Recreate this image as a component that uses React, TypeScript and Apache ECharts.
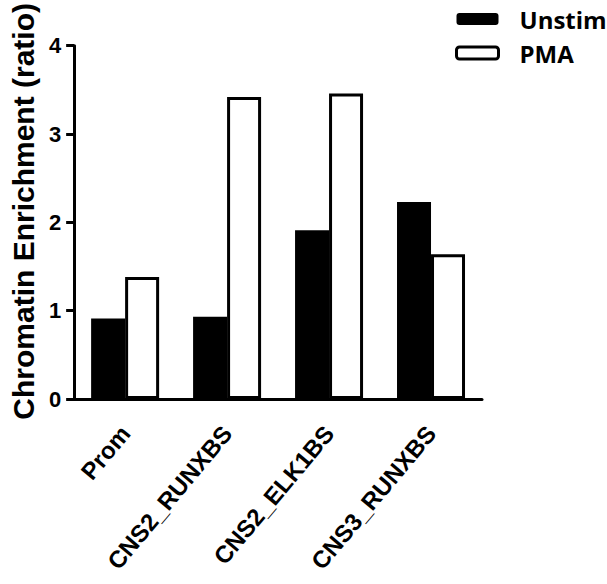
import React, { useEffect, useRef } from "react";
import * as echarts from "echarts";

const categories = ["Prom", "CNS2_RUNXBS", "CNS2_ELK1BS", "CNS3_RUNXBS"];
const unstimValues = [0.91, 0.93, 1.91, 2.23];
const pmaValues = [1.38, 3.42, 3.46, 1.64];
const yTicks = [0, 1, 2, 3, 4];
const seriesNames = ["Unstim", "PMA"];
const yTitle = "Chromatin Enrichment (ratio)";

export default function App() {
  const ref = useRef<HTMLDivElement>(null);
  useEffect(() => {
    document.body.style.margin = "0";
    if (!ref.current) return;
    const chart = echarts.init(ref.current, undefined, { renderer: "svg" });
    const font = "'Liberation Sans', Arial, sans-serif";
    chart.setOption({
      animation: false,
      backgroundColor: "#ffffff",
      legend: {
        orient: "vertical",
        left: 455,
        top: 6,
        padding: 0,
        itemWidth: 42,
        itemHeight: 12,
        itemGap: 8,
        icon: "roundRect",
        textStyle: {
          fontFamily: "'Open Sans', sans-serif",
          fontWeight: "bold",
          fontSize: 24,
          color: "#000",
          lineHeight: 26,
          padding: [0, 0, 0, 16],
        },
        data: [
          { name: seriesNames[0], itemStyle: { color: "#000", borderColor: "#000", borderWidth: 0 } },
          { name: seriesNames[1], itemStyle: { color: "#fff", borderColor: "#000", borderWidth: 3 } },
        ],
      },
      grid: { left: 74, right: 125, top: 43, bottom: 185, containLabel: false },
      xAxis: {
        type: "category",
        data: categories,
        boundaryGap: true,
        axisLine: { lineStyle: { color: "#000", width: 3 } },
        axisTick: { alignWithLabel: true, length: 11, lineStyle: { color: "#000", width: 3 } },
        axisLabel: {
          rotate: 50,
          margin: 30,
          color: "#000",
          fontFamily: font,
          fontWeight: "bold",
          fontSize: 24,
          interval: 0,
        },
      },
      yAxis: {
        type: "value",
        min: yTicks[0],
        max: yTicks[yTicks.length - 1],
        interval: 1,
        name: yTitle,
        nameLocation: "middle",
        nameGap: 33,
        nameTextStyle: {
          color: "#000",
          fontFamily: font,
          fontWeight: "bold",
          fontSize: 30,
          padding: [0, 0, 0, 22],
        },
        splitLine: { show: false },
        axisLine: { show: true, lineStyle: { color: "#000", width: 3 } },
        axisTick: { show: true, length: 8, lineStyle: { color: "#000", width: 3 } },
        axisLabel: {
          margin: 13,
          color: "#000",
          fontFamily: font,
          fontWeight: "bold",
          fontSize: 22,
        },
      },
      series: [
        {
          name: seriesNames[0],
          type: "bar",
          data: unstimValues,
          barWidth: 34,
          barGap: "0%",
          itemStyle: { color: "#000", borderColor: "#000", borderWidth: 0 },
        },
        {
          name: seriesNames[1],
          type: "bar",
          data: pmaValues,
          barWidth: 34,
          barGap: "0%",
          itemStyle: { color: "#fff", borderColor: "#000", borderWidth: 3 },
        },
      ],
    });
    return () => chart.dispose();
  }, []);
  return <div ref={ref} style={{ width: 607, height: 584 }} />;
}
